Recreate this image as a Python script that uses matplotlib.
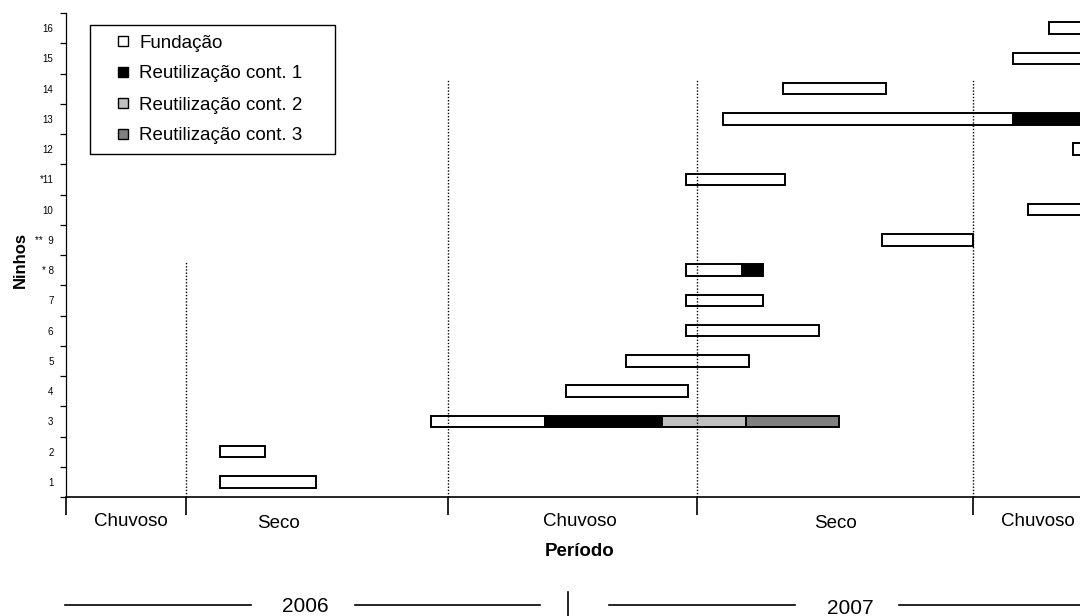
import numpy as np
import matplotlib
matplotlib.use("Agg")
import matplotlib.pyplot as plt
from matplotlib.lines import Line2D

plt.rcParams['font.family'] = ['Liberation Sans', 'DejaVu Sans']

# ---------------- data (x in months from start of 2006 rainy season) ----------------
nests = list(range(1, 17))
ytick_labels = ['1', '2', '3', '4', '5', '6', '7', '* 8', '**  9', '10',
                '*11', '12', '13', '14', '15', '16']
nan = np.nan
fund_start = [3.50, 3.50, 8.30, 11.36, 12.73, 14.09, 14.09, 14.09, 18.55, 21.86,
              14.09, 22.89, 14.93, 16.30, 21.52, 22.34]
fund_end = [5.68, 4.52, 10.89, 14.14, 15.52, 17.11, 15.84, 15.36, 20.61, 23.60,
            16.34, 23.50, 21.52, 18.64, 23.50, 23.40]
reuse1_end = [nan, nan, 13.55, nan, nan, nan, nan, 15.84, nan, nan,
              nan, nan, 23.80, nan, nan, nan]
reuse2_end = [nan, nan, 15.45, nan, nan, nan, nan, nan, nan, nan,
              nan, nan, nan, nan, nan, nan]
reuse3_end = [nan, nan, 17.57, nan, nan, nan, nan, nan, nan, nan,
              nan, nan, nan, nan, nan, nan]

period_bounds = [0.0, 2.73, 8.68, 14.34, 20.61]
period_names = ['Chuvoso', 'Seco', 'Chuvoso', 'Seco', 'Chuvoso']
period_label_x = [1.48, 4.84, 11.68, 17.50, 22.09]
dotted_top = [8.26, 14.28, 14.28, 14.28]
years = ['2006', '2007']
legend_labels = ['Fundação', 'Reutilização cont. 1', 'Reutilização cont. 2', 'Reutilização cont. 3']
colors = ['white', 'black', '#c0c0c0', '#808080']

# ---------------- figure ----------------
W, H = 1080, 616
fig = plt.figure(figsize=(W / 100, H / 100), dpi=100)
ax_left = 66 / W
ax_bottom = 1 - 497 / H
ax_top = 1 - 13 / H
ax = fig.add_axes([ax_left, ax_bottom, 1 - ax_left, ax_top - ax_bottom])

y = np.array(nests, dtype=float)
bh = 0.38
starts = np.array(fund_start)
ends = [np.array(fund_end), np.array(reuse1_end), np.array(reuse2_end), np.array(reuse3_end)]
prev = starts
for seg_end, col in zip(ends, colors):
    width = seg_end - prev
    mask = ~np.isnan(width)
    ax.barh(y[mask], width[mask], left=prev[mask], height=bh, color=col,
            edgecolor='black', linewidth=1.4, zorder=3)
    prev = np.where(np.isnan(seg_end), prev, seg_end)

# dotted season separators
for xb, top in zip(period_bounds[1:], dotted_top):
    ax.plot([xb, xb], [0.5, top], color='black', lw=1.0, linestyle=(0, (1, 1.3)), zorder=4)

ax.set_xlim(0, 23.05)
ax.set_ylim(0.5, 16.5)

# y axis
ax.set_yticks(nests)
ax.set_yticklabels(ytick_labels, fontsize=7)
ax.tick_params(axis='y', which='major', length=0, pad=9)
ax.set_yticks(np.arange(0.5, 17, 1), minor=True)
ax.tick_params(axis='y', which='minor', length=4.5, width=0.9, direction='out')

# x axis: season boundaries as long ticks
ax.set_xticks(period_bounds)
ax.tick_params(axis='x', which='major', length=13, width=1.2, direction='out', labelbottom=False)

for s in ['top', 'right']:
    ax.spines[s].set_visible(False)
ax.spines['bottom'].set_linewidth(1.2)
ax.spines['left'].set_linewidth(0.9)

for xl, name in zip(period_label_x, period_names):
    yy = -0.0496 if name == 'Chuvoso' else -0.054
    ax.text(xl, yy, name, transform=ax.get_xaxis_transform(), ha='center', va='center',
            fontsize=13.5)
ax.text(11.68, -0.1116, 'Período', transform=ax.get_xaxis_transform(), ha='center',
        va='center', fontsize=13.5, fontweight='bold')

ax.set_ylabel('Ninhos', fontsize=12, fontweight='bold')
ax.yaxis.set_label_coords(-0.0375, 0.49)

# legend
handles = [Line2D([], [], marker='s', linestyle='None', markersize=7,
                  markerfacecolor=c, markeredgecolor='black', markeredgewidth=1.0)
           for c in colors]
fs = 13.5
leg = ax.legend(handles, legend_labels, loc='upper left',
                bbox_to_anchor=(90 / W, 1 - 154 / H, 245 / W, 129 / H),
                bbox_transform=fig.transFigure, mode='expand', borderaxespad=0,
                borderpad=0.5, labelspacing=0.74, handlelength=2.5,
                handletextpad=-0.38, fontsize=fs, fancybox=False, framealpha=1,
                edgecolor='black')
leg.get_frame().set_linewidth(1.0)

# year row
yl = 1 - 605 / H
for x0, x1 in [(65, 251), (355, 540), (609, 795), (899, 1080)]:
    fig.add_artist(Line2D([x0 / W, x1 / W], [yl, yl], color='black', lw=1.2))
fig.add_artist(Line2D([568 / W, 568 / W], [1 - 592 / H, 0], color='black', lw=1.2))
fig.text(305 / W, 1 - 606 / H, years[0], ha='center', va='center', fontsize=15)
fig.text(850 / W, 1 - 608 / H, years[1], ha='center', va='center', fontsize=15)

fig.savefig('out.png', dpi=100)
